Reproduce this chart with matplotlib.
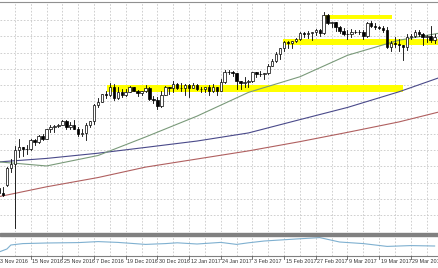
import matplotlib
matplotlib.use("Agg")
import numpy as np
import matplotlib.pyplot as plt
from matplotlib.patches import Rectangle

# daily bars, one per trading day of the CFD (index = bar number)
dates = ["3 Nov 2016", "4 Nov", "7 Nov", "8 Nov", "9 Nov", "10 Nov", "11 Nov", "14 Nov",
         "15 Nov 2016", "16 Nov", "17 Nov", "18 Nov", "21 Nov", "22 Nov", "23 Nov", "24 Nov",
         "25 Nov 2016", "28 Nov", "29 Nov", "30 Nov", "1 Dec", "2 Dec", "5 Dec", "6 Dec",
         "7 Dec 2016", "8 Dec", "9 Dec", "12 Dec", "13 Dec", "14 Dec", "15 Dec", "16 Dec",
         "19 Dec 2016", "20 Dec", "21 Dec", "22 Dec", "23 Dec", "27 Dec", "28 Dec", "29 Dec",
         "30 Dec 2016", "3 Jan", "4 Jan", "5 Jan", "6 Jan", "9 Jan", "10 Jan", "11 Jan",
         "12 Jan 2017", "13 Jan", "16 Jan", "17 Jan", "18 Jan", "19 Jan", "20 Jan", "23 Jan",
         "24 Jan 2017", "25 Jan", "26 Jan", "27 Jan", "30 Jan", "31 Jan", "1 Feb", "2 Feb",
         "3 Feb 2017", "6 Feb", "7 Feb", "8 Feb", "9 Feb", "10 Feb", "13 Feb", "14 Feb",
         "15 Feb 2017", "16 Feb", "17 Feb", "20 Feb", "21 Feb", "22 Feb", "23 Feb", "24 Feb",
         "27 Feb 2017", "28 Feb", "1 Mar", "2 Mar", "3 Mar", "6 Mar", "7 Mar", "8 Mar",
         "9 Mar 2017", "10 Mar", "12 Mar", "13 Mar", "14 Mar", "15 Mar", "16 Mar", "17 Mar",
         "19 Mar 2017", "20 Mar", "21 Mar", "22 Mar", "23 Mar", "24 Mar", "27 Mar", "28 Mar",
         "29 Mar 2017", "30 Mar", "31 Mar", "3 Apr", "4 Apr", "5 Apr", "6 Apr"]

opens = [2097, 2089, 2102, 2131, 2139, 2163, 2167, 2164,
         2164, 2180, 2177, 2187, 2182, 2198, 2203, 2204,
         2206, 2213, 2202, 2205, 2199, 2191, 2192, 2205,
         2212, 2241, 2246, 2259, 2257, 2272, 2253, 2262,
         2258, 2263, 2271, 2265, 2261, 2264, 2269, 2250,
         2249, 2239, 2258, 2271, 2269, 2277, 2269, 2269,
         2275, 2270, 2275, 2268, 2268, 2272, 2264, 2271,
         2265, 2280, 2298, 2297, 2295, 2281, 2279, 2280,
         2281, 2297, 2293, 2293, 2295, 2308, 2316, 2328,
         2338, 2349, 2347, 2351, 2354, 2365, 2363, 2364,
         2367, 2370, 2364, 2396, 2382, 2383, 2375, 2368,
         2363, 2362, 2367, 2366, 2367, 2360, 2382, 2377,
         2374, 2373, 2369, 2340, 2347, 2345, 2343, 2341,
         2358, 2360, 2367, 2362, 2358, 2360, 2353]
highs = [2103, 2099, 2133, 2147, 2170, 2182, 2168, 2171,
         2181, 2181, 2188, 2190, 2199, 2205, 2205, 2208,
         2214, 2214, 2211, 2214, 2203, 2198, 2210, 2213,
         2242, 2252, 2260, 2264, 2278, 2276, 2272, 2268,
         2268, 2273, 2272, 2266, 2264, 2274, 2272, 2255,
         2254, 2264, 2273, 2272, 2282, 2278, 2279, 2276,
         2276, 2279, 2276, 2272, 2272, 2274, 2276, 2272,
         2285, 2300, 2301, 2299, 2296, 2282, 2289, 2284,
         2298, 2298, 2299, 2296, 2311, 2319, 2332, 2338,
         2351, 2351, 2351, 2355, 2367, 2366, 2368, 2367,
         2372, 2371, 2401, 2397, 2384, 2384, 2376, 2373,
         2369, 2371, 2369, 2370, 2369, 2384, 2386, 2381,
         2376, 2376, 2374, 2351, 2357, 2354, 2344, 2362,
         2363, 2369, 2369, 2364, 2361, 2376, 2363]
lows = [2085, 2083, 2100, 2124, 2028, 2151, 2152, 2156,
        2163, 2172, 2175, 2180, 2182, 2194, 2194, 2202,
        2205, 2199, 2198, 2198, 2187, 2186, 2180, 2202,
        2208, 2237, 2245, 2252, 2256, 2248, 2251, 2254,
        2256, 2262, 2265, 2256, 2258, 2262, 2249, 2244,
        2233, 2237, 2257, 2260, 2263, 2268, 2265, 2258,
        2254, 2269, 2266, 2262, 2263, 2258, 2262, 2257,
        2264, 2279, 2294, 2291, 2268, 2267, 2272, 2271,
        2280, 2289, 2290, 2285, 2294, 2307, 2315, 2319,
        2334, 2339, 2339, 2349, 2353, 2358, 2355, 2352,
        2361, 2359, 2362, 2380, 2375, 2368, 2365, 2361,
        2354, 2358, 2365, 2362, 2354, 2358, 2374, 2372,
        2372, 2366, 2338, 2334, 2340, 2334, 2318, 2336,
        2354, 2357, 2360, 2344, 2349, 2349, 2348]
closes = [2089, 2085, 2131, 2139, 2163, 2167, 2164, 2164,
          2180, 2177, 2187, 2182, 2198, 2203, 2204, 2206,
          2213, 2202, 2205, 2199, 2191, 2192, 2205, 2212,
          2241, 2246, 2259, 2257, 2272, 2253, 2262, 2258,
          2263, 2271, 2265, 2261, 2264, 2269, 2250, 2249,
          2239, 2258, 2271, 2269, 2277, 2269, 2269, 2275,
          2270, 2275, 2268, 2268, 2272, 2264, 2271, 2265,
          2280, 2298, 2297, 2295, 2281, 2279, 2280, 2281,
          2297, 2293, 2293, 2295, 2308, 2316, 2328, 2338,
          2349, 2347, 2351, 2354, 2365, 2363, 2364, 2367,
          2370, 2364, 2396, 2382, 2383, 2375, 2368, 2363,
          2362, 2367, 2366, 2367, 2360, 2382, 2377, 2374,
          2373, 2369, 2340, 2347, 2345, 2343, 2341, 2358,
          2360, 2367, 2362, 2358, 2360, 2353, 2357]

# moving averages (bar index, value)
ma_bars = [0, 12, 25, 37, 50, 63, 76, 88, 101, 111]
ma_fast = [2142, 2135, 2153, 2185, 2221, 2262, 2289, 2326, 2352, 2364]
ma_mid = [2142, 2148, 2157, 2167, 2178, 2192, 2215, 2236, 2263, 2287]
ma_slow = [2082, 2099, 2115, 2133, 2147, 2161, 2177, 2193, 2211, 2228]

# indicator in the lower window (bar index, value)
ind_bars = [0, 2, 3, 6, 12, 20, 25, 30, 37, 42, 45, 50, 56, 60, 63, 67, 71, 75,
            81, 86, 92, 98, 104, 110]
ind_vals = [20, 35, 55, 62, 65, 67, 72, 68, 58, 62, 66, 60, 68, 58, 66, 75, 80, 85,
            92, 70, 62, 48, 52, 50]

# highlighted zones: level low, level high, first bar, last bar
zone_lo = [2389, 2343, 2262]
zone_hi = [2396, 2354, 2274]
zone_from = [82.3, 71.6, 27.3]
zone_to = [99.2, 111.5, 102.0]

label_bars = list(range(0, len(dates), 8))

W, H = 439, 268
fig = plt.figure(figsize=(W / 100, H / 100), dpi=100)
fig.patch.set_facecolor("white")

step = 3.96
x0 = -1.0
xmin = (0 - x0) / step
xmax = (W - x0) / step

def frac_y(py):
    return 1 - py / H

ax = fig.add_axes([0, frac_y(232), 1, frac_y(2) - frac_y(232)])
ax.set_xlim(xmin, xmax)
ax.set_ylim(2021, 2418)

# grid
for b in range(0, 116, 4):
    ax.axvline(b, color="#c8c8c8", lw=0.6, ls=(0, (2, 2)), zorder=0)
for lev in np.arange(2387, 2000, -28.1):
    ax.axhline(lev, color="#c8c8c8", lw=0.6, ls=(0, (2, 2)), zorder=0)

for lo, hi, a, b in zip(zone_lo, zone_hi, zone_from, zone_to):
    ax.add_patch(Rectangle((a, lo), b - a, hi - lo, color="#ffff00", lw=0, zorder=1))

ax.plot(ma_bars, ma_slow, color="#b06060", lw=0.8, zorder=2)
ax.plot(ma_bars, ma_mid, color="#4a4a8a", lw=0.8, zorder=2)
ax.plot(ma_bars, ma_fast, color="#7a9a7a", lw=0.8, zorder=2)

bw = 0.62
for i in range(len(dates)):
    o, h, l, c = opens[i], highs[i], lows[i], closes[i]
    ax.plot([i, i], [l, h], color="black", lw=0.6, zorder=3)
    face = "white" if c >= o else "black"
    bot = min(o, c)
    ht = max(abs(c - o), 0.6)
    ax.add_patch(Rectangle((i - bw / 2, bot), bw, ht, facecolor=face,
                           edgecolor="black", lw=0.5, zorder=4))

for s in ["left", "right", "bottom"]:
    ax.spines[s].set_visible(False)
ax.spines["top"].set_color("#909090")
ax.set_xticks([])
ax.set_yticks([])

# separator between windows
fig.patches.append(Rectangle((0, frac_y(236)), 1, frac_y(232.5) - frac_y(236),
                             transform=fig.transFigure, color="#808080", zorder=5))

ax2 = fig.add_axes([0, frac_y(256), 1, frac_y(236) - frac_y(256)])
ax2.set_xlim(xmin, xmax)
ax2.set_ylim(0, 100)
for b in range(0, 116, 4):
    ax2.axvline(b, color="#c8c8c8", lw=0.6, ls=(0, (2, 2)), zorder=0)
ax2.plot(ind_bars, ind_vals, color="#7fb0d0", lw=0.8)
for s in ["left", "right", "top"]:
    ax2.spines[s].set_visible(False)
ax2.spines["bottom"].set_color("#808080")
ax2.set_xticks([])
ax2.set_yticks([])

for b in label_bars:
    xf = (x0 + step * b) / W
    fig.add_artist(plt.Line2D([xf, xf], [frac_y(256), frac_y(259)], color="#606060", lw=0.6))
    fig.text(xf + 1.5 / W, frac_y(261.5), dates[b], fontsize=3.9, color="#333333",
             family=["Liberation Sans Narrow", "Liberation Sans", "DejaVu Sans"],
             ha="left", va="center")

fig.savefig("out.png", dpi=100)
